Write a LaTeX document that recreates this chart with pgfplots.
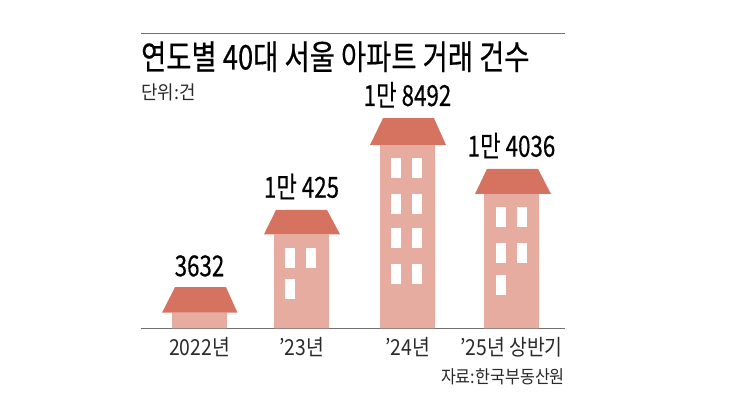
\documentclass[border=0pt]{standalone}
\usepackage{fontspec}
\setmainfont{Noto Sans CJK KR}
\newfontfamily\med[FakeBold=0.5]{Noto Sans CJK KR}
\usepackage{pgfplots}
\pgfplotsset{compat=1.18}
\definecolor{body}{HTML}{E6AC9F}
\definecolor{roof}{HTML}{D57360}
\definecolor{rule}{HTML}{707070}
\definecolor{txt}{HTML}{2A2A2A}
\pgfdeclareplotmark{win}{\pgfpathrectangle{\pgfpoint{-5pt}{-10pt}}{\pgfpoint{10pt}{20pt}}\pgfusepathqfill}
\begin{document}
\begin{tikzpicture}[x=1pt,y=1pt]
\path (-141,-66.5) rectangle (602,328.5);
\begin{axis}[
  at={(0,0)},anchor=south west,scale only axis,width=424pt,height=294.5pt,
  xmin=141,xmax=565,ymin=0,ymax=25895,clip=false,
  axis x line=bottom,axis y line=none,
  axis line style={rule,line width=1pt,-},
  xtick={199.5,301.5,407.5,511.5},
  xticklabels={2022년,'23년,'24년,'25년 상반기},
  major tick length=0pt,tick style={draw=none},
  x tick label style={font=\fontsize{22}{22}\selectfont,text=txt,yshift=-5pt,xscale=0.88},
  nodes near coords style={font=\med\fontsize{29}{29}\selectfont,text=black,xscale=0.77,anchor=south,yshift=7pt}
]
% building bodies
\addplot[ybar,bar width=55pt,fill=body,draw=none,bar shift=0pt] coordinates {(199.5,1389)(301.5,8283)(407.5,16135)(511.5,11827)};
% roofs
\addplot[fill=roof,draw=none] coordinates {(162,1389)(237.5,1389)(226,3632)(175,3632)} --cycle;
\addplot[fill=roof,draw=none] coordinates {(264,8283)(340,8283)(327,10425)(276,10425)} --cycle;
\addplot[fill=roof,draw=none] coordinates {(370,16135)(446,16135)(434,18492)(383,18492)} --cycle;
\addplot[fill=roof,draw=none] coordinates {(475,11827)(551,11827)(538,14036)(487,14036)} --cycle;
% windows
\addplot[only marks,mark=win,mark options={fill=white,draw=none},white] coordinates {
(290,6173)(310.5,6173)(290,3447)
(396.3,14087)(416.7,14087)(396.3,10947)(416.7,10947)(396.3,7932)(416.7,7932)(396.3,4792)(416.7,4792)
(500.7,9761)(521.7,9761)(500.7,6656)(521.7,6656)(500.7,3842)};
% value labels
\addplot[draw=none,mark=none,nodes near coords,point meta=explicit symbolic] coordinates {
(199.5,3632)[3632](301.5,10425)[1만 425](407.5,18492)[1만 8492](511.5,14036)[1만 4036]};
% top rule
\addplot[rule,line width=1pt] coordinates {(141,25895)(565,25895)};
\node[anchor=west,inner sep=0pt,font=\med\fontsize{34}{34}\selectfont,text=black,xscale=0.805] at (axis cs:141,23895) {연도별 40대 서울 아파트 거래 건수};
\node[anchor=west,inner sep=0pt,font=\fontsize{19}{19}\selectfont,text=txt,xscale=0.94] at (axis cs:141,20765) {단위:건};
\node[anchor=east,inner sep=0pt,font=\fontsize{18}{18}\selectfont,text=txt,xscale=0.9] at (axis cs:565,-4250) {자료:한국부동산원};
\end{axis}
\end{tikzpicture}
\end{document}
